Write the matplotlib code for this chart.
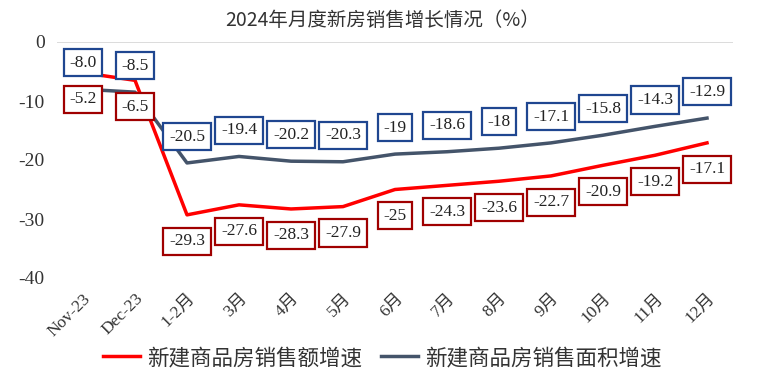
import matplotlib.pyplot as plt

# data
months = ['Nov-23', 'Dec-23', '1-2月', '3月', '4月', '5月', '6月',
          '7月', '8月', '9月', '10月', '11月', '12月']
sales_amount = [-5.2, -6.5, -29.3, -27.6, -28.3, -27.9, -25, -24.3, -23.6, -22.7, -20.9, -19.2, -17.1]
sales_area = [-8.0, -8.5, -20.5, -19.4, -20.2, -20.3, -19, -18.6, -18, -17.1, -15.8, -14.3, -12.9]
amount_labels = ['-5.2', '-6.5', '-29.3', '-27.6', '-28.3', '-27.9', '-25', '-24.3', '-23.6',
                 '-22.7', '-20.9', '-19.2', '-17.1']
area_labels = ['-8.0', '-8.5', '-20.5', '-19.4', '-20.2', '-20.3', '-19', '-18.6', '-18',
               '-17.1', '-15.8', '-14.3', '-12.9']

serif = ['Liberation Serif', 'Noto Sans CJK SC']
cjk = ['Noto Sans CJK SC', 'Liberation Serif']
red = '#FF0000'
slate = '#44546A'

fig = plt.figure(figsize=(7.65, 3.82), dpi=100)
ax = fig.add_axes([57 / 765, 1 - 278 / 382, 676 / 765, 236 / 382])

x = range(len(months))
ax.plot(x, sales_amount, color=red, linewidth=2.5, label='新建商品房销售额增速', zorder=3)
ax.plot(x, sales_area, color=slate, linewidth=2.5, label='新建商品房销售面积增速', zorder=3)
ax.axhline(0, color='#D9D9D9', linewidth=1.3, zorder=1)

for i in x:
    ax.annotate(area_labels[i], (i, sales_area[i]), xytext=(0, 19), textcoords='offset points',
                ha='center', va='center', fontsize=12.5, family=serif, color='#222222', zorder=5,
                bbox=dict(boxstyle='square,pad=0.32', fc='white', ec='#1F4690', lw=1.6))
    ax.annotate(amount_labels[i], (i, sales_amount[i]), xytext=(0, -19), textcoords='offset points',
                ha='center', va='center', fontsize=12.5, family=serif, color='#222222', zorder=5,
                bbox=dict(boxstyle='square,pad=0.32', fc='white', ec='#A00000', lw=1.6))

ax.set_xlim(-0.5, len(months) - 0.5)
ax.set_ylim(-40, 0)
ax.set_yticks([0, -10, -20, -30, -40])
ax.set_yticklabels(['0', '-10', '-20', '-30', '-40'], family=serif, fontsize=14, color='#333333')
ax.set_xticks(list(x))
ax.set_xticklabels(months, rotation=45, ha='right', rotation_mode='anchor',
                   family=serif, fontsize=12.5, color='#333333')
ax.tick_params(length=0, pad=9)
for s in ax.spines.values():
    s.set_visible(False)

fig.suptitle('2024年月度新房销售增长情况（%）', y=0.975, fontsize=14, family=cjk, color='#333333')
leg = fig.legend(loc='center', bbox_to_anchor=(0.5, 1 - 358 / 382), ncol=2, frameon=False,
                 prop={'family': cjk, 'size': 15.5}, handlelength=1.7, handletextpad=0.35,
                 columnspacing=0.9)
for t in leg.get_texts():
    t.set_color('#333333')

plt.savefig('out.png', dpi=100)
